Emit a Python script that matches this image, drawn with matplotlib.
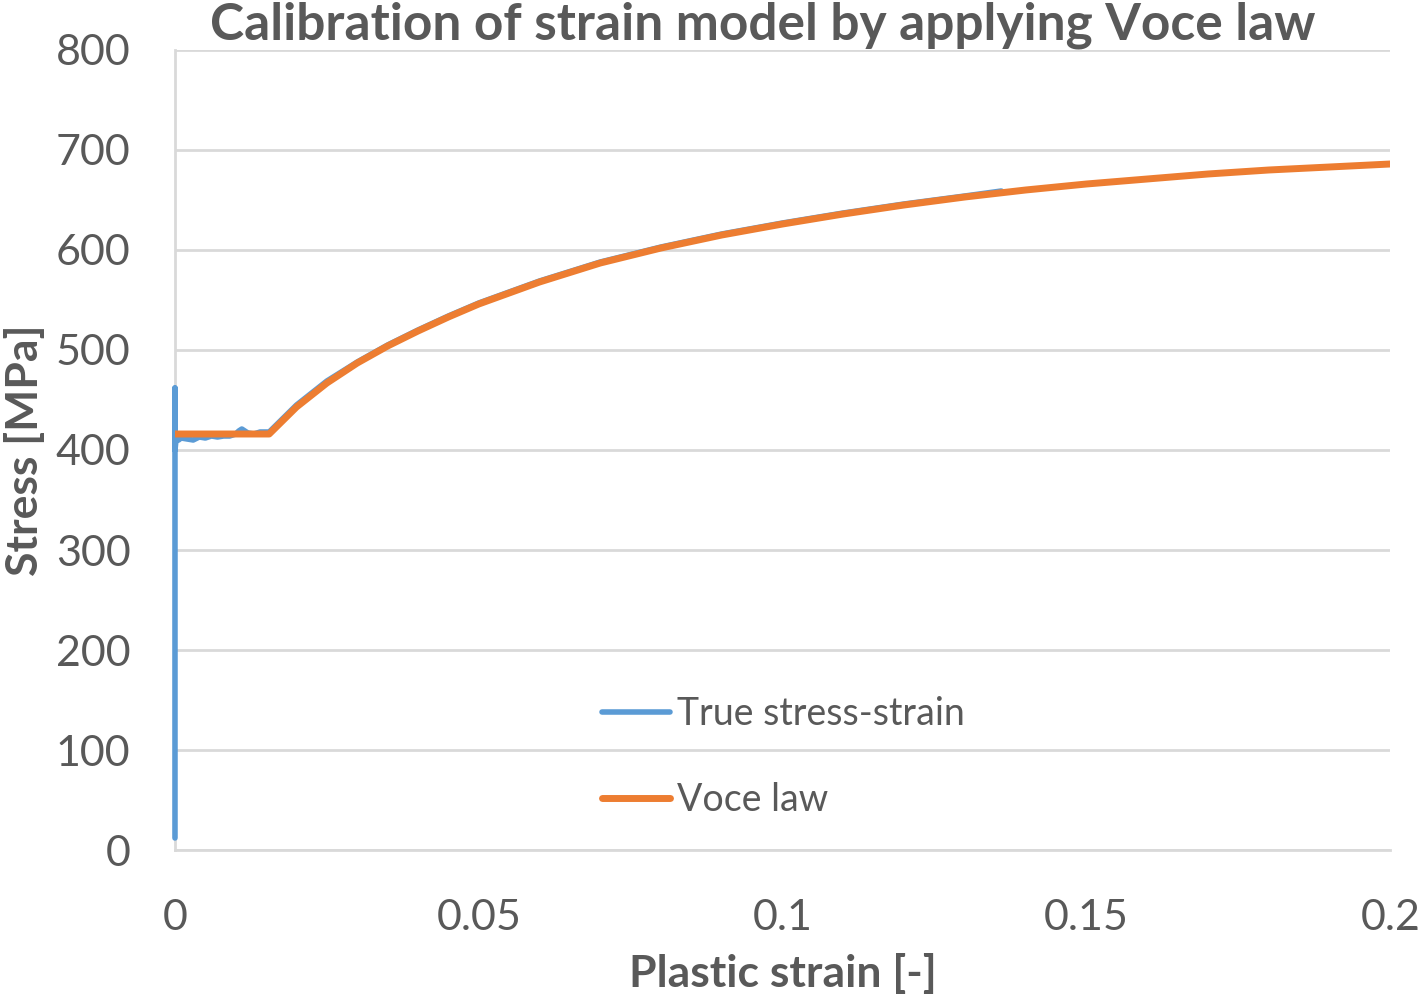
import matplotlib
matplotlib.use("Agg")
import matplotlib.pyplot as plt

# measured curve (true stress-strain)
true_strain = [0.0, 0.0, 0.0, 0.0002, 0.0006, 0.001, 0.002, 0.003, 0.004, 0.005, 0.006,
               0.007, 0.008, 0.009, 0.010, 0.0105, 0.011, 0.0115, 0.012, 0.013, 0.014,
               0.0155, 0.018, 0.020, 0.025, 0.030, 0.035, 0.040, 0.045, 0.050, 0.060,
               0.070, 0.080, 0.090, 0.100, 0.110, 0.120, 0.130, 0.136]
true_stress = [12, 462, 400, 412, 410, 412, 411, 410, 413, 412, 414,
               413, 414, 414, 416, 419, 421, 419, 417, 416, 418,
               418, 433, 445, 469, 488, 505, 520, 534, 547, 569,
               588, 603, 616, 627, 637, 646, 654, 659]

# Voce law fit
voce_strain = [0.0, 0.0155, 0.018, 0.020, 0.025, 0.030, 0.035, 0.040, 0.045, 0.050,
               0.060, 0.070, 0.080, 0.090, 0.100, 0.110, 0.120, 0.130, 0.140, 0.150,
               0.160, 0.170, 0.180, 0.190, 0.200]
voce_stress = [416, 416, 431, 443, 467, 487, 504, 519, 533, 546,
               568, 587, 602, 615, 626, 636, 645, 653, 660, 666,
               671, 676, 680, 683, 686]

gray = "#595959"
plt.rcParams['font.family'] = ['Lato', 'DejaVu Sans']

fig = plt.figure(figsize=(14.18, 10), dpi=100)
ax = fig.add_axes([0.1234, 0.15, 0.857, 0.80])

ax.plot(true_strain, true_stress, color="#5b9bd5", lw=4, label="True stress-strain",
        solid_capstyle="round", clip_on=False, zorder=3)
ax.plot(voce_strain, voce_stress, color="#ed7d31", lw=5, label="Voce law",
        solid_capstyle="round", zorder=4)

ax.set_xlim(0, 0.2)
ax.set_ylim(0, 800)
ax.set_xticks([0, 0.05, 0.1, 0.15, 0.2])
ax.set_xticklabels(["0", "0.05", "0.1", "0.15", "0.2"])
ax.set_yticks(range(0, 801, 100))
ax.tick_params(length=0, labelsize=31, colors=gray)
ax.tick_params(axis="x", pad=35)
ax.tick_params(axis="y", pad=32)
ax.grid(axis="y", color="#d9d9d9", lw=2)
ax.set_axisbelow(True)
for s in ["top", "right"]:
    ax.spines[s].set_visible(False)
ax.spines["left"].set_color("#d9d9d9")
ax.spines["left"].set_linewidth(2)
ax.spines["bottom"].set_color("#d9d9d9")
ax.spines["bottom"].set_linewidth(2)

ax.set_xlabel("Plastic strain [-]", fontsize=32, fontweight="bold", color=gray, labelpad=12)
ax.set_ylabel("Stress [MPa]", fontsize=32, fontweight="bold", color=gray, labelpad=8)
fig.text(0.538, 0.975, "Calibration of strain model by applying Voce law", ha="center",
         va="center", fontsize=37, fontweight="bold", color=gray)

leg = ax.legend(loc="upper left", bbox_to_anchor=(0.324, 0.235), frameon=False,
                fontsize=27, labelcolor=gray, handlelength=1.8, handletextpad=0.2,
                labelspacing=1.35)

fig.savefig("out.png", dpi=100)
